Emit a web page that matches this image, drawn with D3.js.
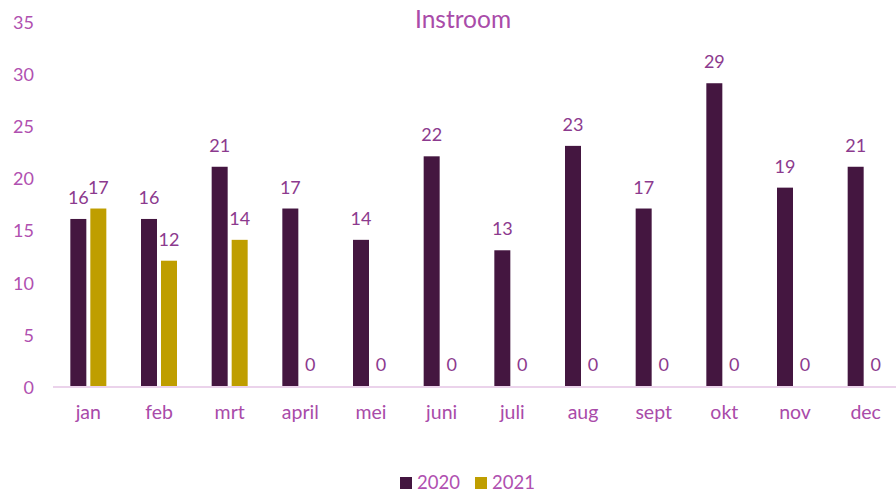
<!DOCTYPE html>
<html>
<head>
<meta charset="utf-8">
<script src="https://cdn.jsdelivr.net/npm/d3@7"></script>
<style>
  body { margin: 0; background: #fff; }
  svg text { font-family: Lato, "Open Sans", sans-serif; }
</style>
</head>
<body>
<div id="chart"></div>
<script>
var months = ["jan", "feb", "mrt", "april", "mei", "juni", "juli", "aug", "sept", "okt", "nov", "dec"];
var series = ["2020", "2021"];
var values2020 = [16, 16, 21, 17, 14, 22, 13, 23, 17, 29, 19, 21];
var values2021 = [17, 12, 14, 0, 0, 0, 0, 0, 0, 0, 0, 0];
var yTicks = [0, 5, 10, 15, 20, 25, 30, 35];
var colors = ["#441640", "#BF9E00"];

var width = 896, height = 492;

var rows = months.map((m, i) => ({ month: m, values: [values2020[i], values2021[i]] }));

var svg = d3.select("#chart").append("svg")
    .attr("width", width)
    .attr("height", height);

var x0 = d3.scaleBand()
    .domain(months)
    .range([53, 901])
    .padding(0);

var x1 = d3.scaleBand()
    .domain(series)
    .range([x0.bandwidth() / 2 - 18, x0.bandwidth() / 2 + 18])
    .paddingInner(0.2);

var y = d3.scaleLinear()
    .domain([0, 35])
    .range([386, 20.6]);

// title
svg.append("text")
    .attr("x", 463)
    .attr("y", 28)
    .attr("text-anchor", "middle")
    .attr("font-size", 24.5)
    .attr("fill", "#A94BA9")
    .text("Instroom");

// y axis labels (no line)
svg.append("g")
    .selectAll("text")
    .data(yTicks)
    .join("text")
    .attr("x", 34)
    .attr("y", d => y(d) + 8)
    .attr("text-anchor", "end")
    .attr("font-size", 18)
    .attr("fill", "#B050B0")
    .text(d => d);

// bars
var group = svg.append("g")
    .selectAll("g")
    .data(rows)
    .join("g")
    .attr("transform", d => "translate(" + x0(d.month) + ",0)");

group.selectAll("rect")
    .data(d => d.values.map((v, i) => ({ key: series[i], value: v, i: i })))
    .join("rect")
    .attr("x", d => x1(d.key))
    .attr("y", d => y(d.value))
    .attr("width", x1.bandwidth())
    .attr("height", d => y(0) - y(d.value))
    .attr("fill", d => colors[d.i]);

group.selectAll("text")
    .data(d => d.values.map((v, i) => ({ key: series[i], value: v, i: i })))
    .join("text")
    .attr("x", d => x1(d.key) + x1.bandwidth() / 2)
    .attr("y", d => y(d.value) - 15)
    .attr("text-anchor", "middle")
    .attr("font-size", 18)
    .attr("fill", "#8C3A8E")
    .text(d => d.value);

// x axis baseline
svg.append("line")
    .attr("x1", 53)
    .attr("x2", width)
    .attr("y1", y(0) + 1)
    .attr("y2", y(0) + 1)
    .attr("stroke", "#EBD3EB")
    .attr("stroke-width", 2);

// x axis labels
svg.append("g")
    .selectAll("text")
    .data(months)
    .join("text")
    .attr("x", d => x0(d) + x0.bandwidth() / 2)
    .attr("y", 419)
    .attr("text-anchor", "middle")
    .attr("font-size", 19.5)
    .attr("fill", "#A94BA9")
    .text(d => d);

// legend
var legend = svg.append("g")
    .selectAll("g")
    .data(series)
    .join("g")
    .attr("transform", (d, i) => "translate(" + (400 + i * 75) + ",477)");

legend.append("rect")
    .attr("width", 12)
    .attr("height", 12)
    .attr("fill", (d, i) => colors[i]);

legend.append("text")
    .attr("x", 17)
    .attr("y", 12)
    .attr("font-size", 18.5)
    .attr("fill", "#B050B0")
    .text(d => d);
</script>
</body>
</html>
